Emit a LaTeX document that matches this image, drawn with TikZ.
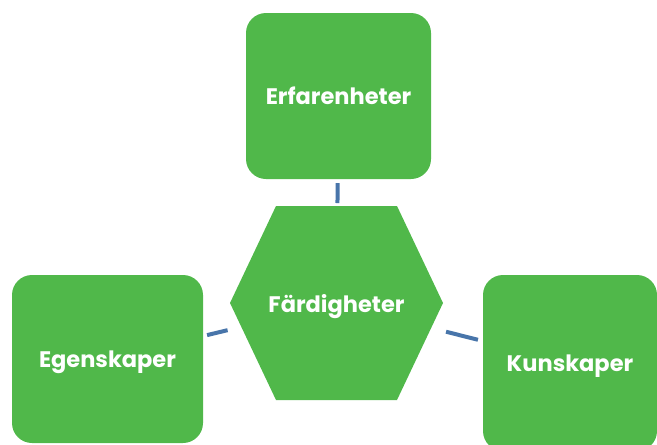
\documentclass[tikz,border=0pt]{standalone}
\usepackage{fontspec}
\setmainfont{Poppins}
\definecolor{boxgreen}{RGB}{80,184,74}
\definecolor{linkblue}{RGB}{72,117,170}
\tikzset{
  label/.style={text=white, inner sep=0pt, text height=16pt, text depth=0pt,
    font=\bfseries\fontsize{22.5}{27}\selectfont},
  box/.style={label, fill=boxgreen, rounded corners=20pt},
  link/.style={draw=linkblue, line width=4pt}
}

\begin{document}
\begin{tikzpicture}[x=1pt, y=-1pt]
\clip (0,0) rectangle (657,445);
% Outer boxes
    \node[box, minimum width=185pt, minimum height=166pt] (erf) at (338.5,96) {Erfarenheter};
    \node[box, minimum width=191pt, minimum height=168pt] (egen) at (107.5,359) {Egenskaper};
    \node[box, minimum width=174pt, minimum height=176pt] (kun) at (570,363) {Kunskaper};
% Centre hexagon
    \fill[boxgreen] (230,303) -- (276,206) -- (397,206) -- (443,303) -- (397,400) -- (276,400) -- cycle;
    \node[label] (fard) at (336.5,304) {Färdigheter};
% Links
    \draw[link, shorten <=4pt, shorten >=101pt] (erf) -- (fard.center);
    \draw[link, shorten <=4pt, shorten >=112pt] (egen) -- (fard.center);
    \draw[link, shorten <=5pt, shorten >=113pt] (kun) -- (fard.center);
\end{tikzpicture}
\end{document}
